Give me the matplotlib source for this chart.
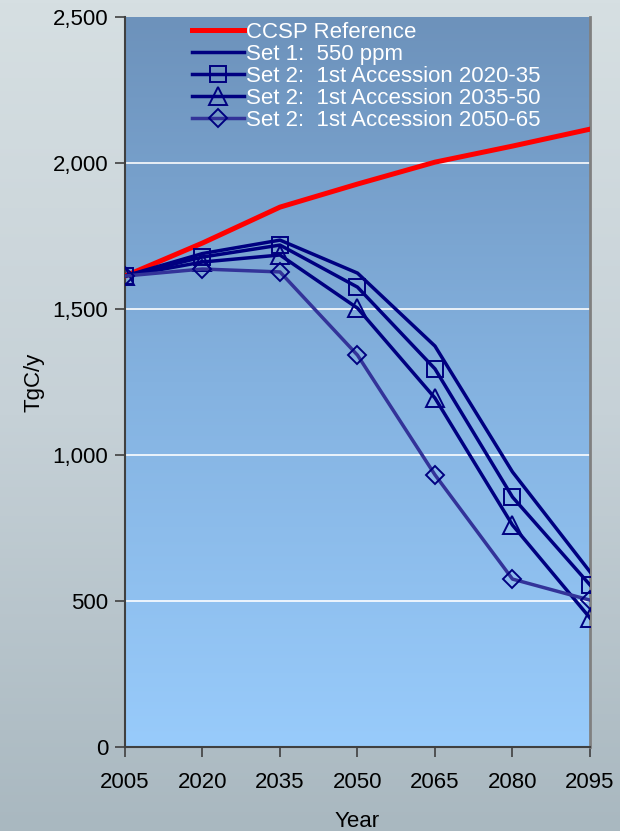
import matplotlib
matplotlib.use('Agg')
import matplotlib.pyplot as plt
from matplotlib.colors import LinearSegmentedColormap
import numpy as np

plt.rcParams['font.family'] = ['Liberation Sans', 'DejaVu Sans']

# emissions pathways, TgC/y
years = [2005, 2020, 2035, 2050, 2065, 2080, 2095]
ccsp_ref = [1613, 1726, 1849, 1928, 2003, 2058, 2116]
set1_550 = [1613, 1690, 1736, 1623, 1373, 942, 600]
acc_2020_35 = [1613, 1678, 1719, 1575, 1295, 856, 555]
acc_2035_50 = [1613, 1661, 1685, 1503, 1195, 760, 442]
acc_2050_65 = [1613, 1637, 1627, 1342, 932, 575, 503]

labels = ['CCSP Reference',
          'Set 1:  550 ppm',
          'Set 2:  1st Accession 2020-35',
          'Set 2:  1st Accession 2035-50',
          'Set 2:  1st Accession 2050-65']
yticks = [0, 500, 1000, 1500, 2000, 2500]

fig = plt.figure(figsize=(6.2, 8.31), dpi=100)

# grey-blue backdrop behind everything
bg = fig.add_axes([0, 0, 1, 1], zorder=-10)
bg_cmap = LinearSegmentedColormap.from_list('bg', ['#d6dfe2', '#c6d1d7', '#a9b8c0'])
bg.imshow(np.linspace(0, 1, 256).reshape(-1, 1), cmap=bg_cmap, aspect='auto',
          extent=[0, 1, 0, 1], origin='upper')
bg.axis('off')

ax = fig.add_axes([0.2016, 0.1011, 0.7500, 0.8784])
ax.set_xlim(2005, 2095)
ax.set_ylim(0, 2500)

# plot area gradient: steel blue at the top, pale blue at the bottom
pa_cmap = LinearSegmentedColormap.from_list('pa', ['#6d92bb', '#84b2e0', '#98cbfb'])
ax.imshow(np.linspace(0, 1, 256).reshape(-1, 1), cmap=pa_cmap, aspect='auto',
          extent=[2005, 2095, 0, 2500], origin='upper', zorder=0)

for v in yticks[1:-1]:
    ax.axhline(v, color='white', lw=1.3, alpha=0.9, zorder=1)

ax.plot(years, ccsp_ref, color='#ff0000', lw=3.6, label=labels[0], zorder=3)
ax.plot(years, set1_550, color='#000080', lw=2.5, label=labels[1], zorder=4)
ax.plot(years, acc_2020_35, color='#000080', lw=2.5, marker='s', ms=11.5,
        mfc='none', mec='#000080', mew=1.4, label=labels[2], zorder=4)
ax.plot(years, acc_2035_50, color='#000080', lw=2.5, marker='^', ms=12.5,
        mfc='none', mec='#000080', mew=1.4, label=labels[3], zorder=4)
ax.plot(years, acc_2050_65, color='#333399', lw=2.5, marker='D', ms=9.5,
        mfc='none', mec='#000080', mew=1.4, label=labels[4], zorder=4)

ax.set_xticks(years)
ax.set_xticklabels([str(y) for y in years])
ax.set_yticks(yticks)
ax.set_yticklabels(['{:,}'.format(v) for v in yticks])
ax.tick_params(axis='both', labelsize=16, direction='out', length=7,
               width=1.2, color='#404040', pad=5)
ax.tick_params(axis='x', pad=11)

ax.spines['top'].set_visible(False)
ax.spines['left'].set_color('#404040')
ax.spines['left'].set_linewidth(1.5)
ax.spines['bottom'].set_color('#404040')
ax.spines['bottom'].set_linewidth(1.5)
ax.spines['right'].set_color('#808080')
ax.spines['right'].set_linewidth(2)

ax.set_xlabel('Year', fontsize=16, labelpad=13)
ax.set_ylabel('TgC/y', fontsize=16, labelpad=6)

leg = ax.legend(loc='upper left', bbox_to_anchor=(0.126, 1.006), frameon=False,
                fontsize=16, labelspacing=0.05, handlelength=2.3,
                handletextpad=0.1, borderaxespad=0)
for t in leg.get_texts():
    t.set_color('white')

fig.savefig('out.png', dpi=100)
plt.close(fig)
